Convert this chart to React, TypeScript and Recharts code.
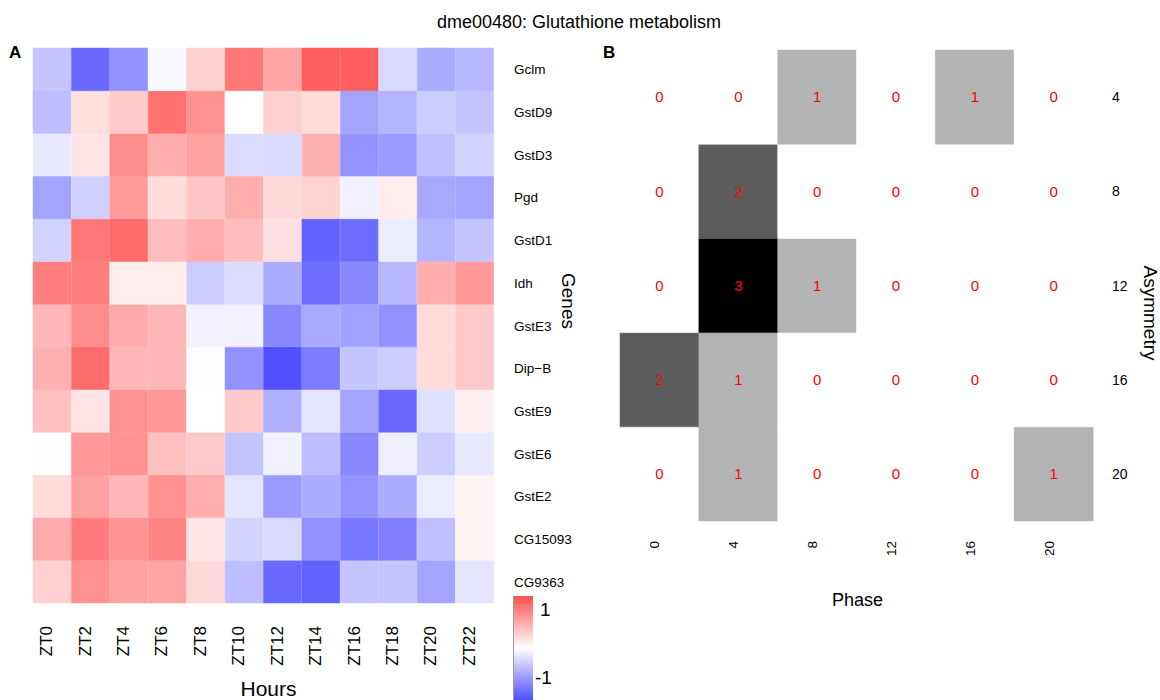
import { BarChart, Bar, XAxis, YAxis, Cell, LabelList } from 'recharts';

const FONT = '"Liberation Sans", Arial, Helvetica, sans-serif';

// Panel A: scaled expression per gene over the day
const hours = ['ZT0', 'ZT2', 'ZT4', 'ZT6', 'ZT8', 'ZT10', 'ZT12', 'ZT14', 'ZT16', 'ZT18', 'ZT20', 'ZT22'];
const genes = ['Gclm', 'GstD9', 'GstD3', 'Pgd', 'GstD1', 'Idh', 'GstE3', 'Dip\u2212B', 'GstE9', 'GstE6', 'GstE2', 'CG15093', 'CG9363'];

const gclm = [-0.34, -0.86, -0.63, -0.04, 0.27, 0.77, 0.52, 0.92, 0.92, -0.22, -0.47, -0.41];
const gstD9 = [-0.38, 0.19, 0.31, 0.82, 0.63, 0.0, 0.27, 0.2, -0.52, -0.43, -0.29, -0.34];
const gstD3 = [-0.13, 0.15, 0.66, 0.47, 0.54, -0.2, -0.21, 0.45, -0.61, -0.58, -0.36, -0.25];
const pgd = [-0.52, -0.27, 0.57, 0.2, 0.34, 0.47, 0.22, 0.26, -0.08, 0.11, -0.5, -0.52];
const gstD1 = [-0.25, 0.77, 0.84, 0.38, 0.47, 0.38, 0.18, -0.89, -0.84, -0.11, -0.43, -0.34];
const idh = [0.73, 0.73, 0.1, 0.1, -0.29, -0.2, -0.47, -0.84, -0.68, -0.41, 0.47, 0.59];
const gstE3 = [0.41, 0.66, 0.48, 0.41, -0.08, -0.08, -0.68, -0.5, -0.54, -0.63, 0.2, 0.31];
const dipB = [0.45, 0.84, 0.41, 0.41, 0.01, -0.63, -1.0, -0.75, -0.34, -0.29, 0.2, 0.31];
const gstE9 = [0.36, 0.15, 0.63, 0.59, 0.0, 0.31, -0.45, -0.15, -0.52, -0.86, -0.18, 0.08];
const gstE6 = [0.01, 0.59, 0.63, 0.36, 0.31, -0.34, -0.08, -0.38, -0.68, -0.1, -0.29, -0.13];
const gstE2 = [0.2, 0.54, 0.41, 0.63, 0.47, -0.15, -0.57, -0.47, -0.61, -0.47, -0.11, 0.06];
const cg15093 = [0.48, 0.75, 0.61, 0.7, 0.15, -0.25, -0.22, -0.63, -0.77, -0.73, -0.36, 0.06];
const cg9363 = [0.27, 0.63, 0.54, 0.52, 0.22, -0.38, -0.86, -0.89, -0.34, -0.34, -0.52, -0.15];

const geneValues = [gclm, gstD9, gstD3, pgd, gstD1, idh, gstE3, dipB, gstE9, gstE6, gstE2, cg15093, cg9363];

// Panel B: number of genes per phase / asymmetry bin
const phases = ['0', '4', '8', '12', '16', '20'];
const asymmetry = [4, 8, 12, 16, 20];
const asym4 = [0, 0, 1, 0, 1, 0];
const asym8 = [0, 2, 0, 0, 0, 0];
const asym12 = [0, 3, 1, 0, 0, 0];
const asym16 = [2, 1, 0, 0, 0, 0];
const asym20 = [0, 1, 0, 0, 0, 1];
const asymCounts = [asym4, asym8, asym12, asym16, asym20];

const countColors = ['#ffffff', '#b3b3b3', '#5c5c5c', '#000000'];

const heatColor = (v: number) => {
  const t = Math.min(Math.abs(v), 1);
  const c = Math.round(255 - 175 * t);
  return v >= 0 ? `rgb(255,${c},${c})` : `rgb(${c},${c},255)`;
};

// one stacked segment of height 1 per gene, per hour
const heatRows = hours.map((hour) => {
  const row: Record<string, string | number> = { hour };
  genes.forEach((_, g) => {
    row[`g${g}`] = 1;
  });
  return row;
});

const phaseRows = phases.map((phase, i) => {
  const row: Record<string, string | number> = { phase };
  asymmetry.forEach((a, r) => {
    row[`h${a}`] = 1;
    row[`n${a}`] = asymCounts[r][i];
  });
  return row;
});

const geneTicks = genes.map((_, i) => i + 0.5);
const asymTicks = asymmetry.map((_, i) => i + 0.5);

const HourTick = ({ x, y, payload }: any) => (
  <text
    transform={`translate(${x},${y + 15}) rotate(-90)`}
    textAnchor="end"
    fontSize={17}
    fill="#000"
  >
    {payload.value}
  </text>
);

const GeneTick = ({ x, y, payload }: any) => (
  <text x={x + 12} y={y + 5} fontSize={13.5} fill="#000" textAnchor="start">
    {genes[genes.length - 1 - Math.floor(payload.value)]}
  </text>
);

const PhaseTick = ({ x, y, payload }: any) => (
  <text
    transform={`translate(${x},${y + 12}) rotate(-90)`}
    textAnchor="end"
    fontSize={13.5}
    fill="#000"
  >
    {payload.value}
  </text>
);

const AsymTick = ({ x, y, payload }: any) => (
  <text x={x + 11} y={y + 5} fontSize={14} fill="#000" textAnchor="start">
    {asymmetry[asymmetry.length - 1 - Math.floor(payload.value)]}
  </text>
);

const HoursLabel = ({ viewBox }: any) => (
  <text x={viewBox.x + viewBox.width / 2 + 5} y={viewBox.y + 93} fontSize={21} textAnchor="middle" fill="#000">
    Hours
  </text>
);

const GenesLabel = ({ viewBox }: any) => (
  <text
    transform={`translate(${viewBox.x + 68},${viewBox.y + 253}) rotate(90)`}
    fontSize={19}
    textAnchor="middle"
    fill="#000"
  >
    Genes
  </text>
);

const PhaseLabel = ({ viewBox }: any) => (
  <text x={viewBox.x + viewBox.width / 2 + 1} y={viewBox.y + 85} fontSize={18} textAnchor="middle" fill="#000">
    Phase
  </text>
);

const AsymLabel = ({ viewBox }: any) => (
  <text
    transform={`translate(${viewBox.x + 51},${viewBox.y + 263}) rotate(90)`}
    fontSize={19}
    textAnchor="middle"
    fill="#000"
  >
    Asymmetry
  </text>
);

export default function App() {
  return (
    <div
      style={{
        position: 'absolute',
        left: 0,
        top: 0,
        width: 1160,
        height: 700,
        background: '#fff',
        fontFamily: FONT,
        overflow: 'hidden',
      }}
    >
      <div style={{ position: 'absolute', left: 0, top: 0 }}>
        <BarChart
          width={600}
          height={700}
          data={heatRows}
          margin={{ top: 48, right: 0, bottom: 0, left: 33 }}
          barCategoryGap={0}
          barGap={0}
        >
          <XAxis
            dataKey="hour"
            height={97}
            interval={0}
            axisLine={false}
            tickLine={false}
            tick={HourTick}
            label={HoursLabel}
          />
          <YAxis
            orientation="right"
            type="number"
            width={106}
            domain={[0, genes.length]}
            ticks={geneTicks}
            interval={0}
            axisLine={false}
            tickLine={false}
            tick={GeneTick}
            label={GenesLabel}
          />
          {genes
            .map((_, g) => g)
            .reverse()
            .map((g) => (
              <Bar key={g} dataKey={`g${g}`} stackId="heat" isAnimationActive={false}>
                {hours.map((h, i) => {
                  const fill = heatColor(geneValues[g][i]);
                  return <Cell key={h} fill={fill} stroke={fill} strokeWidth={0.5} />;
                })}
              </Bar>
            ))}
        </BarChart>
      </div>

      <div style={{ position: 'absolute', left: 600, top: 0 }}>
        <BarChart
          width={560}
          height={700}
          data={phaseRows}
          margin={{ top: 50, right: 0, bottom: 0, left: 20 }}
          barCategoryGap={0}
          barGap={0}
        >
          <XAxis
            dataKey="phase"
            height={179}
            interval={0}
            axisLine={false}
            tickLine={false}
            tick={PhaseTick}
            label={PhaseLabel}
          />
          <YAxis
            orientation="right"
            type="number"
            width={67}
            domain={[0, asymmetry.length]}
            ticks={asymTicks}
            interval={0}
            axisLine={false}
            tickLine={false}
            tick={AsymTick}
            label={AsymLabel}
          />
          {asymmetry
            .map((a, r) => ({ a, r }))
            .reverse()
            .map(({ a, r }) => (
              <Bar key={a} dataKey={`h${a}`} stackId="count" isAnimationActive={false}>
                {phases.map((p, i) => {
                  const fill = countColors[asymCounts[r][i]];
                  return <Cell key={p} fill={fill} stroke={fill} strokeWidth={0.5} />;
                })}
                <LabelList dataKey={`n${a}`} position="center" fill="#ff0000" fontSize={15} />
              </Bar>
            ))}
        </BarChart>
      </div>

      <svg
        width={1160}
        height={700}
        style={{ position: 'absolute', left: 0, top: 0, pointerEvents: 'none' }}
      >
        <defs>
          <linearGradient id="heatScale" x1="0" y1="0" x2="0" y2="1">
            <stop offset="0%" stopColor="#ff5050" />
            <stop offset="50%" stopColor="#ffffff" />
            <stop offset="100%" stopColor="#5050ff" />
          </linearGradient>
        </defs>
        <text x={579} y={28} fontSize={18} textAnchor="middle" fill="#000">
          dme00480: Glutathione metabolism
        </text>
        <text x={9} y={58} fontSize={17} fontWeight="bold" fill="#000">
          A
        </text>
        <text x={603} y={58} fontSize={17} fontWeight="bold" fill="#000">
          B
        </text>
        <rect x={513} y={596} width={20} height={104} fill="url(#heatScale)" />
        <line x1={513.5} y1={596} x2={513.5} y2={700} stroke="#999" strokeWidth={1} />
        <text x={540} y={616} fontSize={19} fill="#000">
          1
        </text>
        <text x={535} y={684} fontSize={19} fill="#000">
          -1
        </text>
      </svg>
    </div>
  );
}
